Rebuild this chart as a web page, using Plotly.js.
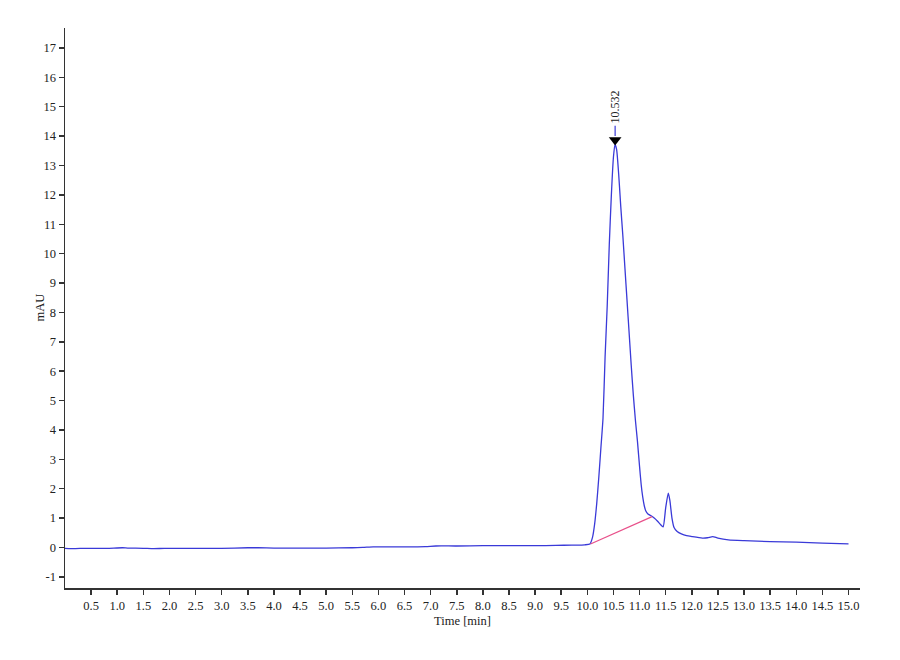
<!DOCTYPE html>
<html>
<head>
<meta charset="utf-8">
<script src="https://cdn.plot.ly/plotly-3.0.1.min.js"></script>
<style>html,body{margin:0;padding:0;background:#fff;}#chart{width:900px;height:660px;}</style>
</head>
<body>
<div id="chart"></div>
<script>
// Chromatogram signal (time in min, absorbance in mAU)
var timeMin = [0.0,0.2,0.35,0.5,0.8,1.1,1.2,1.5,1.7,1.9,2.2,2.5,3.0,3.5,3.7,4.0,4.5,5.0,5.5,5.7,5.9,6.2,6.5,6.9,7.1,7.5,8.0,8.5,9.0,9.4,9.7,9.95,
  10.05,10.10,10.14,10.18,10.22,10.26,10.30,10.34,10.38,10.42,10.46,10.50,10.53,10.56,10.60,10.64,10.68,10.72,10.76,10.80,10.84,10.88,10.92,10.96,
  11.00,11.03,11.06,11.09,11.12,11.16,11.22,11.28,11.34,11.40,11.45,11.50,11.55,11.58,11.62,11.66,11.72,11.80,11.90,12.0,12.2,12.3,12.4,12.5,12.7,13.0,13.5,14.0,14.5,15.0];
var signalMAU = [-0.03,-0.04,-0.03,-0.03,-0.03,-0.01,-0.02,-0.03,-0.04,-0.03,-0.03,-0.03,-0.03,-0.01,-0.01,-0.02,-0.02,-0.02,-0.01,0.0,0.02,0.02,0.02,0.03,0.05,0.05,0.06,0.06,0.06,0.07,0.08,0.09,
  0.12,0.35,0.8,1.5,2.4,3.4,4.4,6.5,8.2,10.3,12.0,13.3,13.72,13.55,12.7,11.6,10.6,9.5,8.4,7.3,6.2,5.2,4.34,3.6,
  2.75,2.15,1.72,1.42,1.24,1.14,1.08,1.0,0.9,0.78,0.70,1.35,1.85,1.6,1.0,0.68,0.54,0.46,0.40,0.37,0.32,0.33,0.37,0.32,0.26,0.23,0.20,0.18,0.15,0.12];

// Integration baseline of the main peak
var baseTime = [10.06, 11.24];
var baseMAU = [0.12, 1.05];

// Peak label
var peakTime = [10.532];
var peakMAU = [13.87];
var peakLabel = ['10.532'];

var xTickVals = [0.5,1.0,1.5,2.0,2.5,3.0,3.5,4.0,4.5,5.0,5.5,6.0,6.5,7.0,7.5,8.0,8.5,9.0,9.5,10.0,10.5,11.0,11.5,12.0,12.5,13.0,13.5,14.0,14.5,15.0];
var xTickText = xTickVals.map(function(v){return v.toFixed(1);});
var yTickVals = [-1,0,1,2,3,4,5,6,7,8,9,10,11,12,13,14,15,16,17];
var yTickText = yTickVals.map(function(v){return String(v);});

var serif = '"Liberation Serif", "Times New Roman", serif';

var traces = [
  {x: timeMin, y: signalMAU, type: 'scatter', mode: 'lines',
   line: {color: '#3a3ad8', width: 1.3, shape: 'spline', smoothing: 0.6}, hoverinfo: 'skip'},
  {x: baseTime, y: baseMAU, type: 'scatter', mode: 'lines',
   line: {color: '#e8508a', width: 1.2}, hoverinfo: 'skip'},
  {x: peakTime, y: peakMAU, type: 'scatter', mode: 'markers',
   marker: {symbol: 'triangle-down', size: 11, color: '#000'}, hoverinfo: 'skip'}
];

var layout = {
  width: 900, height: 660,
  margin: {l: 65, r: 40, t: 28, b: 72},
  paper_bgcolor: '#fff', plot_bgcolor: '#fff',
  showlegend: false,
  xaxis: {
    range: [0, 15.22], showgrid: false, zeroline: false,
    showline: true, linecolor: '#333', linewidth: 1.5,
    ticks: 'outside', ticklen: 5, tickwidth: 1.5, tickcolor: '#333',
    tickvals: xTickVals, ticktext: xTickText,
    tickfont: {family: serif, size: 12.5, color: '#222'},
    title: {text: 'Time [min]', font: {family: serif, size: 12.5, color: '#222'}, standoff: 4}
  },
  yaxis: {
    range: [-1.38, 17.68], showgrid: false, zeroline: false,
    showline: true, linecolor: '#333', linewidth: 1.5,
    ticks: 'outside', ticklen: 5, tickwidth: 1.5, tickcolor: '#333',
    tickvals: yTickVals, ticktext: yTickText,
    tickfont: {family: serif, size: 12.5, color: '#222'}
  },
  shapes: [
    {type: 'line', xref: 'x', yref: 'y', x0: 10.532, x1: 10.532, y0: 14.0, y1: 14.35,
     line: {color: '#3a3ad8', width: 1.2}}
  ],
  annotations: [
    {x: peakTime[0], y: 14.35, xref: 'x', yref: 'y', text: peakLabel[0], showarrow: false,
     textangle: -90, yanchor: 'bottom', xanchor: 'center',
     font: {family: serif, size: 12, color: '#222'}},
    {x: -0.032, y: 0.5, xref: 'paper', yref: 'paper', text: 'mAU', showarrow: false,
     textangle: -90, xanchor: 'center', yanchor: 'middle',
     font: {family: serif, size: 12.5, color: '#222'}}
  ]
};

Plotly.newPlot('chart', traces, layout, {displayModeBar: false, staticPlot: true});
</script>
</body>
</html>
